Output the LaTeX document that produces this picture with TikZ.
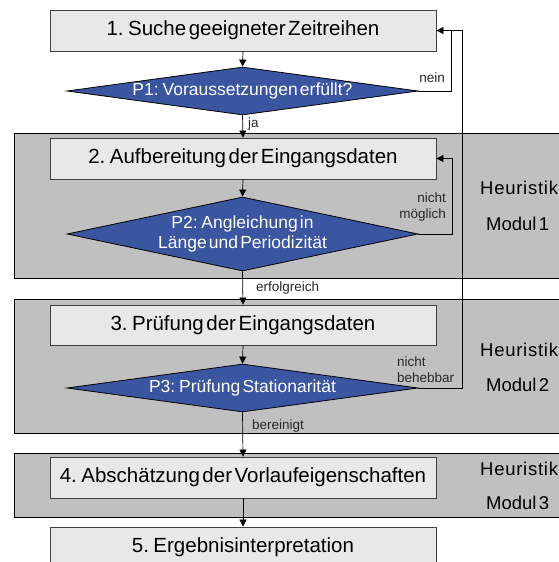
\documentclass[tikz,border=0pt]{standalone}
\usepackage{fontspec}
\setmainfont{Liberation Sans}[WordSpace=0.45]
\usetikzlibrary{shapes.geometric,arrows.meta}
\definecolor{boxfill}{RGB}{232,232,232}
\definecolor{bandfill}{RGB}{192,192,192}
\definecolor{decfill}{RGB}{58,86,161}
\definecolor{labelgray}{RGB}{40,40,40}
\begin{document}
\begin{tikzpicture}[x=1pt,y=-1pt,
  stepbox/.style={draw=black!75,fill=boxfill,line width=0.8pt,minimum width=386pt,minimum height=41pt,inner sep=0pt,font=\fontsize{20.5}{22}\selectfont},
  decision/.style={diamond,draw=black,fill=decfill,line width=0.8pt,text=white,inner sep=0pt,minimum width=351pt,font=\fontsize{17.5}{19.5}\selectfont,align=center},
  band/.style={draw=black,fill=bandfill,line width=0.8pt},
  flow/.style={draw=black,line width=0.7pt,-{Triangle[length=7pt,width=7pt]}},
  line/.style={draw=black,line width=0.7pt},
  edgelabel/.style={font=\fontsize{13.5}{16}\selectfont,text=labelgray,inner sep=0pt},
  modlabel/.style={font=\fontsize{18.5}{20}\selectfont,inner sep=0pt,anchor=west}]
\useasboundingbox (0,0) rectangle (559,562);
\begin{scope}
\clip (0,0) rectangle (559,562);
% heuristic module bands
\path[band] (14,133) rectangle (570,278);
\path[band] (14,299) rectangle (570,433);
\path[band] (14,453) rectangle (570,517);

% process steps and decisions
\node[stepbox] (s1) at (243,30.5) {1. Suche geeigneter Zeitreihen};
\node[decision,aspect=7.3,minimum height=48pt] (p1) at (242.5,91) {P1: Voraussetzungen erfüllt?};
\node[stepbox] (s2) at (243,158.5) {2. Aufbereitung der Eingangsdaten};
\node[decision,aspect=4.74,minimum height=74pt] (p2) at (242.5,234) {P2: Angleichung in\\Länge und Periodizität};
\node[stepbox,minimum height=40pt] (s3) at (243,325) {3. Prüfung der Eingangsdaten};
\node[decision,aspect=7.3,minimum height=48pt] (p3) at (242.5,388) {P3: Prüfung Stationarität};
\node[stepbox] (s4) at (243,477.5) {4. Abschätzung der Vorlaufeigenschaften};
\node[stepbox] (s5) at (243,547.5) {5. Ergebnisinterpretation};

% module labels
\node[modlabel] (h1) at (480,188) {\addfontfeature{LetterSpace=4}Heuristik};
\node[modlabel] (m1) at (486,224) {Modul 1};
\node[modlabel] (h2) at (480,350) {\addfontfeature{LetterSpace=4}Heuristik};
\node[modlabel] (m2) at (486,385) {Modul 2};
\node[modlabel] (h3) at (480,469) {\addfontfeature{LetterSpace=4}Heuristik};
\node[modlabel] (m3) at (486,503) {Modul 3};

% main flow
\draw[flow] (s1.south) -- (p1.north);
\draw[flow] (p1.south) -- node[edgelabel,anchor=west,xshift=5pt,pos=0.4] (lja) {ja} (s2.north);
\draw[flow] (s2.south) -- (p2.north);
\draw[flow] (p2.south) -- node[edgelabel,anchor=west,xshift=13pt,pos=0.5] (lerf) {erfolgreich} (s3.north);
\draw[flow] (s3.south) -- (p3.north);
\draw[flow] (p3.south) -- node[edgelabel,anchor=west,xshift=9pt,pos=0.3] (lber) {bereinigt} (s4.north);
\draw[flow] (s4.south) -- (s5.north);

% feedback loops
\coordinate (r1) at (451,91);
\coordinate (r1t) at (451,30.5);
\coordinate (r2) at (452,234);
\coordinate (r2t) at (452,158.5);
\coordinate (r3) at (462,388);
\coordinate (r3t) at (462,30.5);
\draw[line] (p1.east) -- (r1) -- (r1t);
\draw[flow] (p3.east) -- (r3) -- (r3t) -- (s1.east);
\draw[flow] (p2.east) -- (r2) -- (r2t) -- (s2.east);
\node[edgelabel,anchor=south east] (lnein) at (445,83) {nein};
\node[edgelabel,anchor=south east,align=right] (lnm) at (446,221) {nicht\\möglich};
\node[edgelabel,anchor=south west,align=left] (lnb) at (397,383) {nicht\\behebbar};
\end{scope}
\end{tikzpicture}
\end{document}
